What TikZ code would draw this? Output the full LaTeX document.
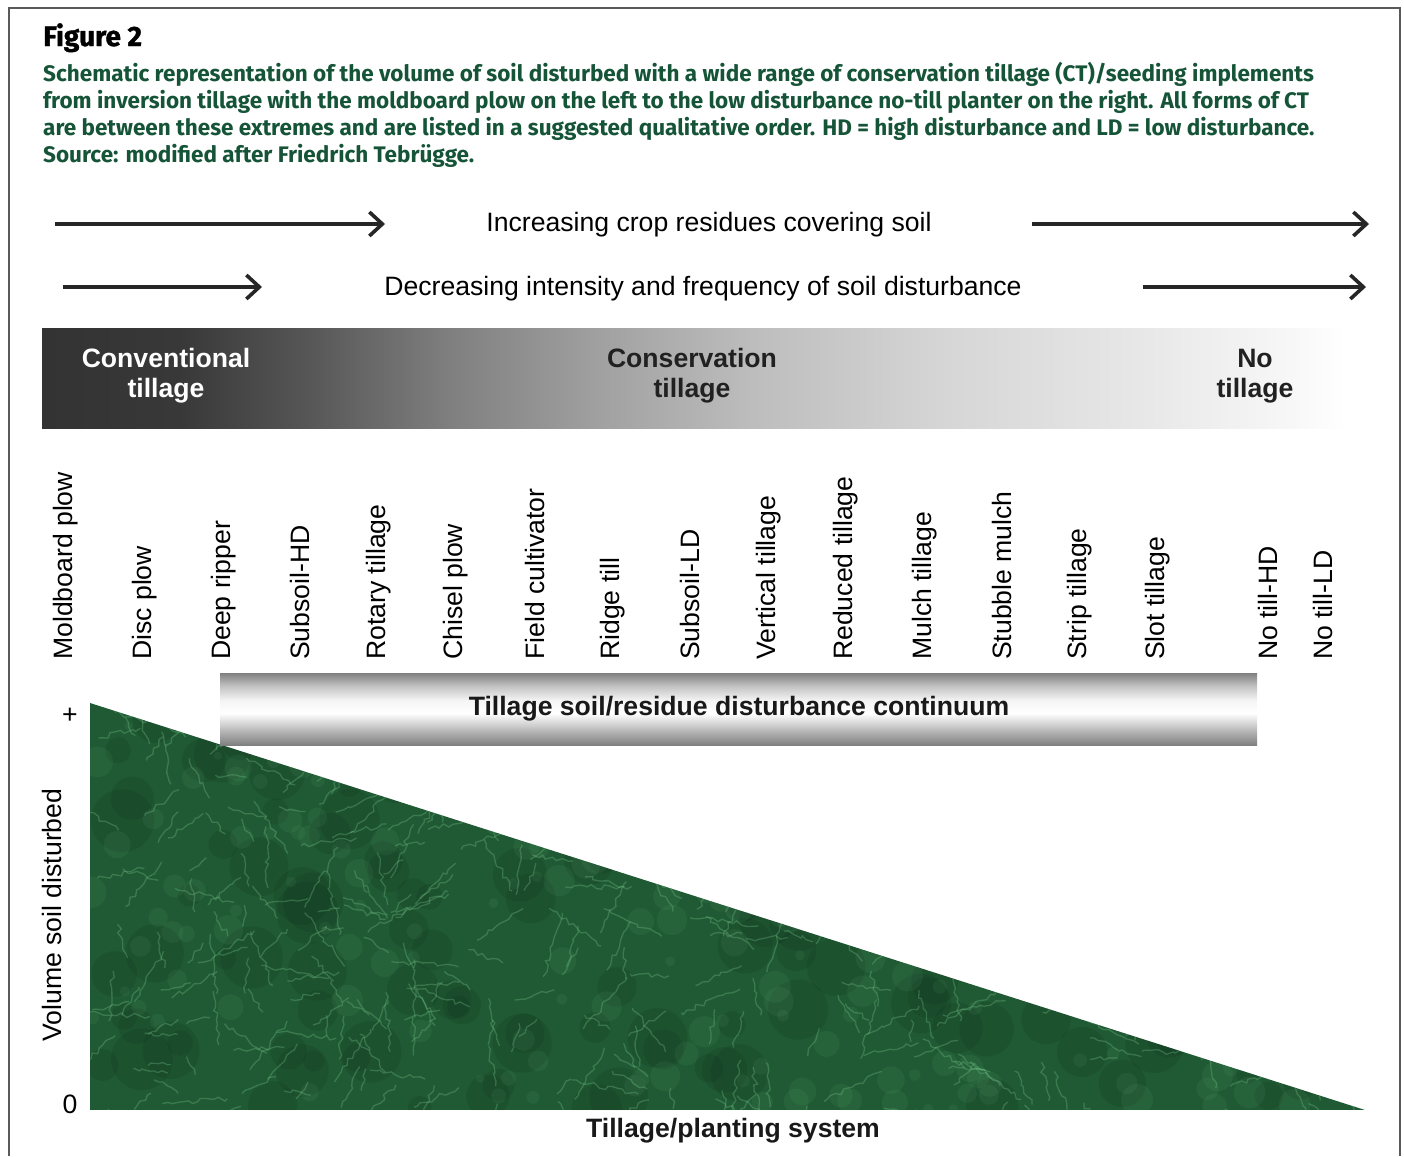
\documentclass[tikz,border=0pt]{standalone}
\usepackage{fontspec}
\setmainfont{Liberation Sans}
\newfontfamily\capfont{Fira Sans}
\newfontfamily\figfont[BoldFeatures={FakeBold=1.3}]{Fira Sans}
\usetikzlibrary{arrows.meta,decorations.pathmorphing}
\definecolor{capgreen}{RGB}{22,84,56}
\definecolor{soilgreen}{RGB}{32,90,52}
\definecolor{veingreen}{RGB}{120,200,140}
\definecolor{framegray}{RGB}{90,90,90}
\pgfdeclarehorizontalshading{tillbar}{100bp}{color(0bp)=(black!80); color(25bp)=(black!80); color(30.3bp)=(black!78); color(34.9bp)=(black!67); color(40.7bp)=(black!50); color(46.4bp)=(black!37); color(52.2bp)=(black!26); color(59.8bp)=(black!16); color(67.5bp)=(black!9); color(73bp)=(black!3); color(75bp)=(white); color(100bp)=(white)}
\pgfdeclareverticalshading{metalbar}{100bp}{color(0bp)=(black!50); color(25bp)=(black!50); color(35bp)=(black!28); color(47bp)=(white); color(56bp)=(white!96!black); color(66bp)=(black!24); color(75bp)=(black!50); color(100bp)=(black!50)}
\begin{document}
\begin{tikzpicture}[x=1pt,y=1pt,yscale=-1,xscale=1,
  lbl/.style={inner sep=0pt, font=\fontsize{26.6}{30}\selectfont},
  boldlbl/.style={lbl, font=\fontsize{26.6}{30}\selectfont\bfseries, align=center},
  implabel/.style={lbl, rotate=90, anchor=west},
  dirarrow/.style={line width=3.6pt, color=black!85, -{Straight Barb[length=13pt,width=24pt,line width=3.6pt]}},
  vein/.style={veingreen, line width=1.3pt, opacity=0.3, decorate, decoration={random steps, segment length=5pt, amplitude=2.5pt}}]
\useasboundingbox (0,0) rectangle (1404,1156);

%Straight Lines: frame
\draw [framegray, line width=1.3pt] (9,1156) -- (9,8) -- (1400,8) -- (1400,1156);

% Text Node
\node [anchor=base west, inner sep=0pt, font=\figfont\bfseries\fontsize{28}{30}\selectfont] (fig) at (43,46) {Figure 2};
% Text Node
\node [anchor=north west, inner sep=0pt, align=left, text=capgreen, font=\capfont\bfseries\fontsize{22.5}{27}\selectfont] (cap) at (43,62) {Schematic representation of the volume of soil disturbed with a wide range of conservation tillage (CT)/seeding implements\\from inversion tillage with the moldboard plow on the left to the low disturbance no-till planter on the right. All forms of CT\\are between these extremes and are listed in a suggested qualitative order. HD = high disturbance and LD = low disturbance.\\Source: modified after Friedrich Tebrügge.};

%Straight Lines: arrows
\coordinate (r1s) at (55,224);
\coordinate (r1e) at (385,224);
\coordinate (r2s) at (1032,224);
\coordinate (r2e) at (1369,224);
\coordinate (d1s) at (63,287);
\coordinate (d1e) at (262,287);
\coordinate (d2s) at (1143,287);
\coordinate (d2e) at (1366,287);
\draw [dirarrow] (r1s) -- (r1e);
\draw [dirarrow] (r2s) -- (r2e);
\draw [dirarrow] (d1s) -- (d1e);
\draw [dirarrow] (d2s) -- (d2e);
% Text Node
\node [lbl] (resid) at (709,225) {Increasing crop residues covering soil};
% Text Node
\node [lbl] (intens) at (703,289) {Decreasing intensity and frequency of soil disturbance};

%Shape: Rectangle (tillage systems)
\shade [shading=tillbar] (42,328) rectangle (1345,428);
% Text Node
\node [boldlbl, text=white] (conv) at (166,376) {Conventional\\tillage};
% Text Node
\node [boldlbl, text=black!87] (cons) at (692,376) {Conservation\\tillage};
% Text Node
\node [boldlbl, text=black!87] (notill) at (1255,376) {No\\tillage};

% Text Nodes: implements
\foreach \xx/\name [count=\k] in {66/Moldboard plow, 145/Disc plow, 224/Deep ripper, 300/Subsoil-HD, 379/Rotary tillage, 456/Chisel plow, 535/Field cultivator, 613/Ridge till, 690/Subsoil-LD, 769/Vertical tillage, 846/Reduced tillage, 925/Mulch tillage, 1002/Stubble mulch, 1080/Strip tillage, 1158/Slot tillage, 1268/No till-HD, 1323/No till-LD}
  \node [implabel] (imp\k) at (\xx,660) {\name};

%Shape: Triangle (soil volume)
\begin{scope}
\clip (90,703) -- (90,1110) -- (1365,1110) -- cycle;
\fill [soilgreen] (90,703) rectangle (1365,1110);
\pgfmathsetseed{17}
\foreach \i in {1,...,160} {
  \pgfmathsetmacro\px{90+1275*rnd}
  \pgfmathsetmacro\py{703+407*rnd}
  \pgfmathsetmacro\rr{10+22*rnd}
  \fill [black, opacity=0.08] (\px,\py) circle (\rr);
}
\foreach \i in {1,...,220} {
  \pgfmathsetmacro\px{90+1275*rnd}
  \pgfmathsetmacro\py{703+407*rnd}
  \pgfmathsetmacro\rr{4+12*rnd}
  \fill [veingreen, opacity=0.08] (\px,\py) circle (\rr);
}
\foreach \i in {1,...,480} {
  \pgfmathsetmacro\px{90+1275*rnd}
  \pgfmathsetmacro\py{703+407*rnd}
  \pgfmathsetmacro\ang{360*rnd}
  \pgfmathsetmacro\len{20+50*rnd}
  \draw [vein] (\px,\py) -- ++(\ang:\len);
}
\end{scope}

%Shape: Rectangle (continuum bar)
\shade [shading=metalbar] (220,673) rectangle (1257,745);
% Text Node
\node [boldlbl, text=black!90] (contin) at (739,709) {Tillage soil/residue disturbance continuum};

% Text Node
\node [lbl] (plus) at (70,716) {+};
% Text Node
\node [lbl] (zero) at (70,1104) {0};
% Text Node
\node [lbl, rotate=90] (vol) at (52,915) {Volume soil disturbed};
% Text Node
\node [boldlbl, text=black!90] (sys) at (733,1131) {Tillage/planting system};

\end{tikzpicture}
\end{document}
